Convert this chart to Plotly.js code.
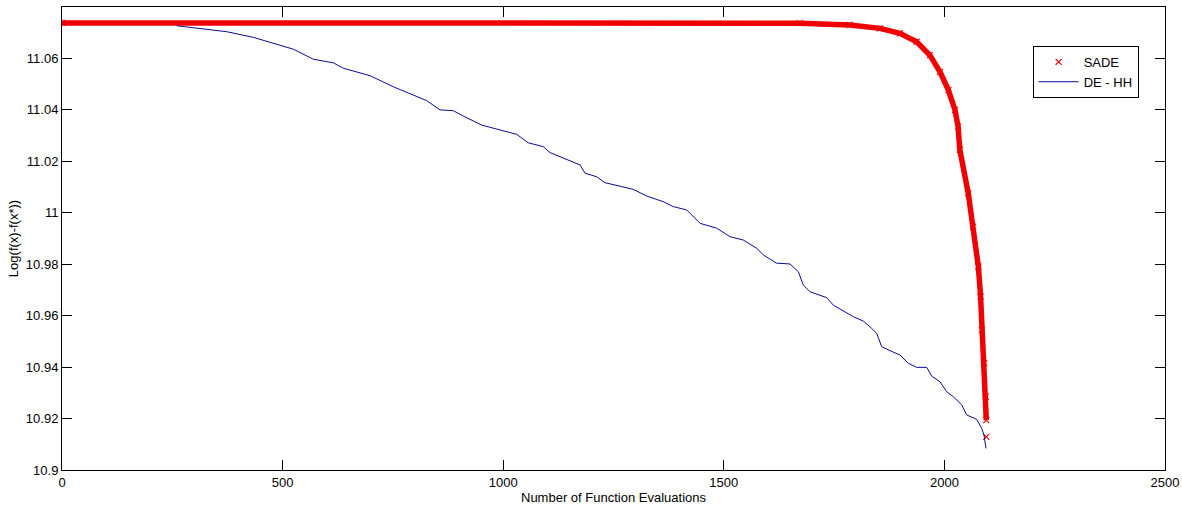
<!DOCTYPE html>
<html>
<head>
<meta charset="utf-8">
<script src="https://cdn.plot.ly/plotly-3.0.1.min.js"></script>
<style>html,body{margin:0;padding:0;background:#fff;}#chart{width:1182px;height:505px;}</style>
</head>
<body>
<div id="chart"></div>
<script>
// SADE: evaluations and log error
var sadeX = [0, 1672.7, 1786, 1854, 1899, 1937, 1967, 1990, 2009, 2024, 2031, 2035, 2054, 2065, 2077, 2082, 2085, 2090, 2094, 2095, 2095];
var sadeY = [11.0738, 11.0737, 11.0730, 11.0717, 11.0698, 11.0665, 11.0613, 11.0548, 11.0477, 11.0400, 11.0335, 11.0245, 11.0076, 10.9946, 10.9791, 10.9674, 10.9544, 10.9416, 10.9285, 10.9194, 10.9129];

// DE - HH
var dehhX = [260.0, 312.8, 373.3, 433.6, 478.9, 524.3, 569.6, 614.9, 637.6, 698.1, 750.9, 796.2, 826.6, 856.8, 886.9, 909.6, 951.3, 992.7, 1030.6, 1056.9, 1090.9, 1106.1, 1143.9, 1174.1, 1185.4, 1211.9, 1230.7, 1264.7, 1294.9, 1325.3, 1362.9, 1385.5, 1415.9, 1446.1, 1483.9, 1514.1, 1544.2, 1574.6, 1589.5, 1619.9, 1650.0, 1668.9, 1680.2, 1695.4, 1733.2, 1748.2, 1770.9, 1793.5, 1816.2, 1831.4, 1846.6, 1857.9, 1876.7, 1899.4, 1918.2, 1937.2, 1959.9, 1971.2, 1990.0, 2005.2, 2020.2, 2039.2, 2050.5, 2073.2, 2084.5, 2089.7, 2094.3];
var dehhY = [11.0727, 11.0717, 11.0704, 11.0682, 11.0659, 11.0636, 11.0597, 11.0583, 11.0562, 11.0533, 11.0490, 11.0458, 11.0436, 11.0400, 11.0397, 11.0376, 11.0341, 11.0322, 11.0305, 11.0272, 11.0257, 11.0234, 11.0208, 11.0186, 11.0154, 11.0140, 11.0117, 11.0104, 11.0091, 11.0065, 11.0043, 11.0024, 11.0011, 10.9959, 10.9940, 10.9907, 10.9894, 10.9862, 10.9836, 10.9804, 10.9801, 10.9771, 10.9719, 10.9693, 10.9670, 10.9641, 10.9618, 10.9596, 10.9579, 10.9557, 10.9531, 10.9479, 10.9464, 10.9447, 10.9415, 10.9399, 10.9399, 10.9365, 10.9343, 10.9304, 10.9285, 10.9253, 10.9214, 10.9197, 10.9162, 10.9136, 10.9084];

var xTicks = [0, 500, 1000, 1500, 2000, 2500];
var yTicks = [10.9, 10.92, 10.94, 10.96, 10.98, 11, 11.02, 11.04, 11.06, 11.08];
var yTickText = ['10.9', '10.92', '10.94', '10.96', '10.98', '11', '11.02', '11.04', '11.06', '11.08'];

var red = '#f00000';
var traces = [
  {
    x: sadeX.slice(0, -1), y: sadeY.slice(0, -1), type: 'scatter', mode: 'lines',
    line: {color: red, width: 5.5}, showlegend: false, hoverinfo: 'skip'
  },
  {
    x: sadeX, y: sadeY, type: 'scatter', mode: 'markers', name: 'SADE',
    marker: {symbol: 'x-thin-open', size: 6, color: red, line: {color: red, width: 1.2}}
  },
  {
    x: dehhX, y: dehhY, type: 'scatter', mode: 'lines', name: 'DE - HH',
    line: {color: '#0a0a9a', width: 1}
  }
];

var axisFont = {family: 'Liberation Sans, Arial, sans-serif', size: 13, color: '#000'};

var layout = {
  width: 1182, height: 505,
  margin: {l: 62, r: 17, t: 7, b: 35, pad: 0},
  paper_bgcolor: '#fff', plot_bgcolor: '#fff',
  font: axisFont,
  showlegend: true,
  legend: {
    x: 0.880, y: 0.916, xanchor: 'left', yanchor: 'top',
    bgcolor: '#fff', bordercolor: '#000', borderwidth: 1,
    font: {family: 'Liberation Sans, Arial, sans-serif', size: 13, color: '#000'},
    tracegroupgap: 0, itemwidth: 40
  },
  xaxis: {
    range: [0, 2500], tickvals: xTicks, ticktext: xTicks.map(String),
    ticks: 'inside', ticklen: 10, tickcolor: '#000', tickwidth: 1,
    showline: true, linecolor: '#000', linewidth: 1, mirror: 'ticks',
    showgrid: false, zeroline: false, tickfont: axisFont,
    title: {text: 'Number of Function Evaluations', font: axisFont, standoff: 4}
  },
  yaxis: {
    range: [10.9, 11.08], tickvals: yTicks, ticktext: yTickText,
    ticks: 'inside', ticklen: 10, tickcolor: '#000', tickwidth: 1,
    showline: true, linecolor: '#000', linewidth: 1, mirror: 'ticks',
    showgrid: false, zeroline: false, tickfont: axisFont,
    title: {text: 'Log(f(x)-f(x*))', font: axisFont, standoff: 4}
  }
};

Plotly.newPlot('chart', traces, layout, {staticPlot: true, displayModeBar: false});
</script>
</body>
</html>
